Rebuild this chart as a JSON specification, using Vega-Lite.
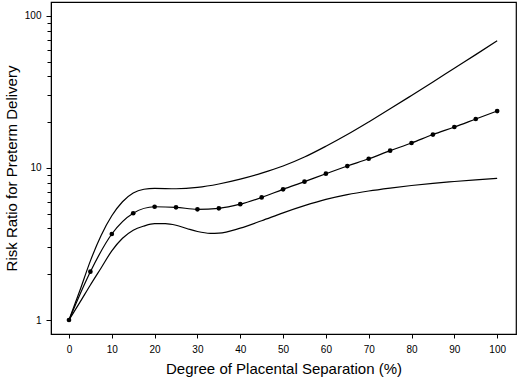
{
  "$schema": "https://vega.github.io/schema/vega-lite/v6.json",
  "width": 465,
  "height": 332,
  "autosize": {"type": "none"},
  "padding": {"left": 51, "top": 2, "right": 2, "bottom": 45},
  "background": "white",
  "config": {
    "view": {"stroke": "black", "strokeWidth": 1.2},
    "axis": {
      "grid": false,
      "domainColor": "black",
      "tickColor": "black",
      "labelColor": "black",
      "titleColor": "black",
      "labelFont": "Liberation Sans",
      "titleFont": "Liberation Sans",
      "labelFontSize": 10,
      "titleFontSize": 15,
      "titleFontWeight": "normal"
    }
  },
  "datasets": {
    "bounds": [
      {"x": 0, "value": 1.0, "series": "upper"},
      {"x": 2.5, "value": 1.55, "series": "upper"},
      {"x": 5, "value": 2.45, "series": "upper"},
      {"x": 7.5, "value": 3.6, "series": "upper"},
      {"x": 10, "value": 4.85, "series": "upper"},
      {"x": 12.5, "value": 6.0, "series": "upper"},
      {"x": 15, "value": 6.85, "series": "upper"},
      {"x": 17.5, "value": 7.25, "series": "upper"},
      {"x": 20, "value": 7.35, "series": "upper"},
      {"x": 25, "value": 7.3, "series": "upper"},
      {"x": 30, "value": 7.45, "series": "upper"},
      {"x": 35, "value": 7.85, "series": "upper"},
      {"x": 40, "value": 8.45, "series": "upper"},
      {"x": 45, "value": 9.25, "series": "upper"},
      {"x": 50, "value": 10.3, "series": "upper"},
      {"x": 55, "value": 11.8, "series": "upper"},
      {"x": 60, "value": 13.9, "series": "upper"},
      {"x": 65, "value": 16.6, "series": "upper"},
      {"x": 70, "value": 20.1, "series": "upper"},
      {"x": 75, "value": 24.5, "series": "upper"},
      {"x": 80, "value": 30.0, "series": "upper"},
      {"x": 85, "value": 36.8, "series": "upper"},
      {"x": 90, "value": 45.3, "series": "upper"},
      {"x": 95, "value": 55.7, "series": "upper"},
      {"x": 100, "value": 68.7, "series": "upper"},
      {"x": 0, "value": 1.0, "series": "lower"},
      {"x": 2.5, "value": 1.3, "series": "lower"},
      {"x": 5, "value": 1.7, "series": "lower"},
      {"x": 7.5, "value": 2.2, "series": "lower"},
      {"x": 10, "value": 2.85, "series": "lower"},
      {"x": 12.5, "value": 3.45, "series": "lower"},
      {"x": 15, "value": 3.9, "series": "lower"},
      {"x": 17.5, "value": 4.15, "series": "lower"},
      {"x": 20, "value": 4.3, "series": "lower"},
      {"x": 22.5, "value": 4.3, "series": "lower"},
      {"x": 25, "value": 4.2, "series": "lower"},
      {"x": 27.5, "value": 4.0, "series": "lower"},
      {"x": 30, "value": 3.82, "series": "lower"},
      {"x": 33, "value": 3.72, "series": "lower"},
      {"x": 35, "value": 3.73, "series": "lower"},
      {"x": 40, "value": 4.02, "series": "lower"},
      {"x": 45, "value": 4.5, "series": "lower"},
      {"x": 50, "value": 5.07, "series": "lower"},
      {"x": 55, "value": 5.65, "series": "lower"},
      {"x": 60, "value": 6.21, "series": "lower"},
      {"x": 65, "value": 6.68, "series": "lower"},
      {"x": 70, "value": 7.06, "series": "lower"},
      {"x": 75, "value": 7.38, "series": "lower"},
      {"x": 80, "value": 7.67, "series": "lower"},
      {"x": 85, "value": 7.93, "series": "lower"},
      {"x": 90, "value": 8.15, "series": "lower"},
      {"x": 95, "value": 8.36, "series": "lower"},
      {"x": 100, "value": 8.55, "series": "lower"}
    ],
    "estimate": [
      {"x": 0, "value": 1.0},
      {"x": 5, "value": 2.08},
      {"x": 10, "value": 3.68},
      {"x": 15, "value": 5.04},
      {"x": 20, "value": 5.56},
      {"x": 25, "value": 5.51},
      {"x": 30, "value": 5.35},
      {"x": 35, "value": 5.43},
      {"x": 40, "value": 5.78},
      {"x": 45, "value": 6.4},
      {"x": 50, "value": 7.24},
      {"x": 55, "value": 8.13},
      {"x": 60, "value": 9.17},
      {"x": 65, "value": 10.3},
      {"x": 70, "value": 11.5},
      {"x": 75, "value": 13.0},
      {"x": 80, "value": 14.6},
      {"x": 85, "value": 16.6},
      {"x": 90, "value": 18.6},
      {"x": 95, "value": 21.0},
      {"x": 100, "value": 23.7}
    ]
  },
  "encoding": {
    "x": {
      "field": "x",
      "type": "quantitative",
      "scale": {"domain": [-4.2, 104.4], "nice": false, "zero": false},
      "axis": {
        "title": "Degree of Placental Separation (%)",
        "values": [0, 10, 20, 30, 40, 50, 60, 70, 80, 90, 100],
        "tickSize": 4,
        "labelPadding": 6,
        "titlePadding": 7
      }
    },
    "y": {
      "field": "value",
      "type": "quantitative",
      "scale": {"type": "log", "domain": [0.809, 123.6], "nice": false},
      "axis": {
        "title": "Risk Ratio for Preterm Delivery",
        "values": [1, 2, 3, 4, 5, 6, 7, 8, 9, 10, 20, 30, 40, 50, 60, 70, 80, 90, 100],
        "labelExpr": "datum.value == 1 || datum.value == 10 || datum.value == 100 ? datum.label : ''",
        "tickSize": {"condition": {"test": "datum.value == 1 || datum.value == 10 || datum.value == 100", "value": 5}, "value": 4},
        "labelPadding": 5,
        "titlePadding": 5
      }
    }
  },
  "layer": [
    {
      "data": {"name": "bounds"},
      "mark": {"type": "line", "interpolate": "monotone", "color": "black", "strokeWidth": 1.2},
      "encoding": {"detail": {"field": "series"}}
    },
    {
      "data": {"name": "estimate"},
      "mark": {"type": "line", "interpolate": "monotone", "color": "black", "strokeWidth": 1.2}
    },
    {
      "data": {"name": "estimate"},
      "mark": {"type": "point", "filled": true, "color": "black", "size": 22, "opacity": 1}
    }
  ]
}
